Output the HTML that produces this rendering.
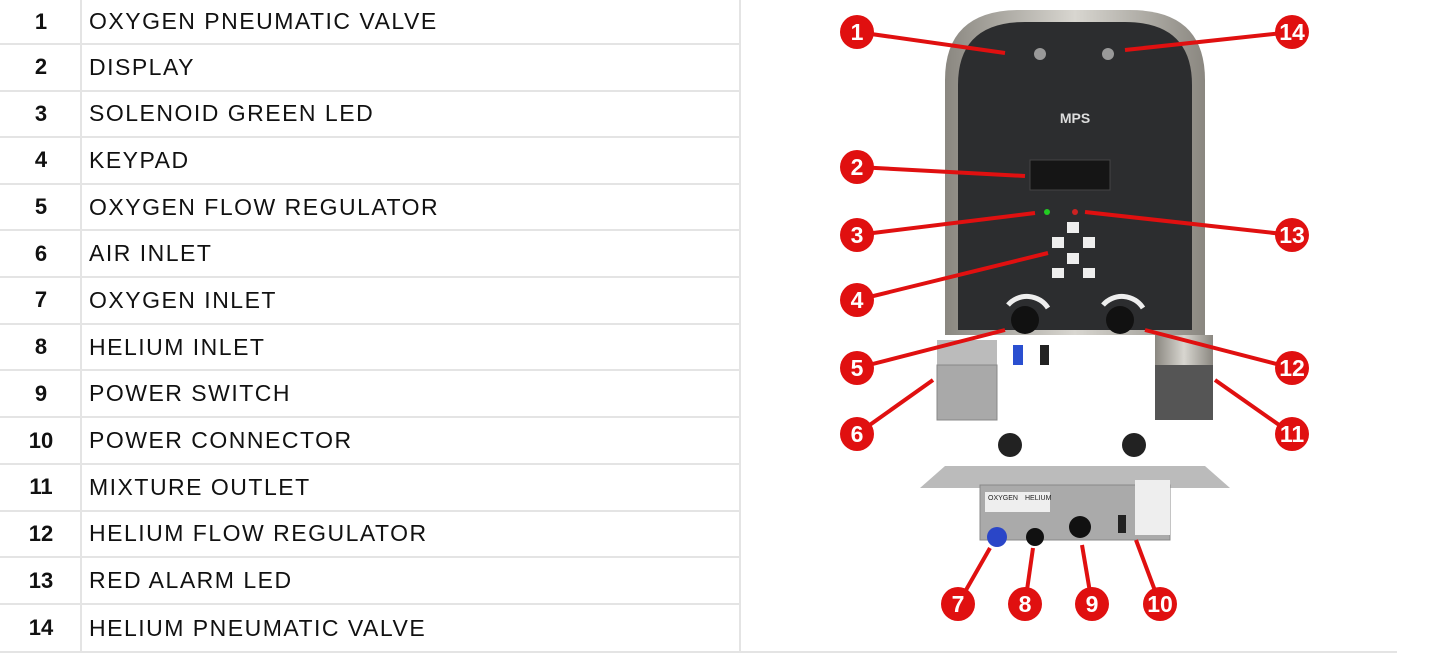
<!DOCTYPE html>
<html><head><meta charset="utf-8"><style>
body{margin:0;width:1440px;height:659px;background:#fff;overflow:hidden;font-family:"Liberation Sans",sans-serif;position:relative}
.row{position:absolute;left:0;width:740px;border-bottom:2px solid #e4e4e4;box-sizing:border-box;display:flex;align-items:center}
.n{width:82px;flex:none;text-align:center;font-weight:bold;font-size:22px;color:#111}
.t{margin-left:7px;font-size:23px;letter-spacing:1.5px;color:#111}
</style></head><body>
<div style="position:absolute;left:80px;top:0;width:2px;height:652px;background:#e4e4e4"></div>
<div style="position:absolute;left:739px;top:0;width:2px;height:652px;background:#e4e4e4"></div>
<div style="position:absolute;left:0;top:651px;width:1397px;height:2px;background:#e4e4e4"></div>
<div class="row" style="top:0;height:45px"><div class="n">1</div><div class="t">OXYGEN PNEUMATIC VALVE</div></div>
<div class="row" style="top:45px;height:46.5px"><div class="n">2</div><div class="t">DISPLAY</div></div>
<div class="row" style="top:91.5px;height:46.5px"><div class="n">3</div><div class="t">SOLENOID GREEN LED</div></div>
<div class="row" style="top:138px;height:46.7px"><div class="n">4</div><div class="t">KEYPAD</div></div>
<div class="row" style="top:184.7px;height:46.7px"><div class="n">5</div><div class="t">OXYGEN FLOW REGULATOR</div></div>
<div class="row" style="top:231.4px;height:46.7px"><div class="n">6</div><div class="t">AIR INLET</div></div>
<div class="row" style="top:278.1px;height:46.7px"><div class="n">7</div><div class="t">OXYGEN INLET</div></div>
<div class="row" style="top:324.8px;height:46.7px"><div class="n">8</div><div class="t">HELIUM INLET</div></div>
<div class="row" style="top:371.5px;height:46.7px"><div class="n">9</div><div class="t">POWER SWITCH</div></div>
<div class="row" style="top:418.2px;height:46.7px"><div class="n">10</div><div class="t">POWER CONNECTOR</div></div>
<div class="row" style="top:464.9px;height:46.7px"><div class="n">11</div><div class="t">MIXTURE OUTLET</div></div>
<div class="row" style="top:511.6px;height:46.7px"><div class="n">12</div><div class="t">HELIUM FLOW REGULATOR</div></div>
<div class="row" style="top:558.3px;height:46.7px"><div class="n">13</div><div class="t">RED ALARM LED</div></div>
<div class="row" style="top:605px;height:46px;border-bottom:none"><div class="n">14</div><div class="t">HELIUM PNEUMATIC VALVE</div></div>

<svg style="position:absolute;left:0;top:0" width="1440" height="659">
<defs><linearGradient id="st" x1="0" x2="1"><stop offset="0" stop-color="#8a8780"/><stop offset=".5" stop-color="#d8d6d0"/><stop offset="1" stop-color="#8a8780"/></linearGradient></defs>
<rect x="937" y="340" width="60" height="80" fill="#bbb"/>
<rect x="937" y="365" width="60" height="55" fill="#a9a9a9" stroke="#888"/>
<rect x="1155" y="340" width="58" height="80" fill="#555"/>
<rect x="1155" y="335" width="58" height="30" fill="url(#st)"/>
<rect x="1013" y="345" width="10" height="20" fill="#2a4fd0"/>
<rect x="1040" y="345" width="9" height="20" fill="#222"/>
<path d="M945 335 V80 Q945 10 1020 10 H1130 Q1205 10 1205 80 V335 Z" fill="url(#st)"/>
<path d="M958 330 V85 Q958 22 1025 22 H1125 Q1192 22 1192 85 V330 Z" fill="#2c2d2f"/>
<rect x="1030" y="160" width="80" height="30" fill="#151515" stroke="#444"/>
<circle cx="1040" cy="54" r="6" fill="#999"/><circle cx="1108" cy="54" r="6" fill="#999"/>
<text x="1075" y="123" fill="#ddd" font-size="14" font-weight="bold" text-anchor="middle">MPS</text>
<circle cx="1047" cy="212" r="3" fill="#2c2" /><circle cx="1075" cy="212" r="3" fill="#c22"/>
<g fill="#eee"><rect x="1067" y="222" width="12" height="11"/><rect x="1052" y="237" width="12" height="11"/><rect x="1083" y="237" width="12" height="11"/><rect x="1067" y="253" width="12" height="11"/><rect x="1052" y="268" width="12" height="10"/><rect x="1083" y="268" width="12" height="10"/></g>
<circle cx="1025" cy="320" r="14" fill="#111"/><circle cx="1120" cy="320" r="14" fill="#111"/>
<path d="M1008 305 A25 25 0 0 1 1048 308" stroke="#eee" stroke-width="5" fill="none"/>
<path d="M1103 305 A25 25 0 0 1 1143 308" stroke="#eee" stroke-width="5" fill="none"/>
<path d="M920 488 L945 466 H1205 L1230 488 Z" fill="#bbb"/>
<rect x="980" y="485" width="190" height="55" fill="#aaa" stroke="#888"/>
<rect x="1135" y="480" width="35" height="55" fill="#eee"/>
<circle cx="1010" cy="445" r="12" fill="#222"/><circle cx="1134" cy="445" r="12" fill="#222"/>
<circle cx="997" cy="537" r="10" fill="#2a46c8"/><circle cx="1035" cy="537" r="9" fill="#111"/><circle cx="1080" cy="527" r="11" fill="#111"/><rect x="1118" y="515" width="8" height="18" fill="#222"/>
<rect x="985" y="492" width="65" height="20" fill="#eee"/>
<text x="988" y="500" font-size="7" fill="#222">OXYGEN</text><text x="1025" y="500" font-size="7" fill="#222">HELIUM</text>
<g stroke="#e01010" stroke-width="4" fill="#fff" stroke-linejoin="round">
<line x1="857" y1="32" x2="1005" y2="53"/><line x1="1292" y1="32" x2="1125" y2="50"/>
<line x1="857" y1="167" x2="1025" y2="176"/><line x1="857" y1="235" x2="1035" y2="213"/>
<line x1="1292" y1="235" x2="1085" y2="212"/><line x1="857" y1="300" x2="1048" y2="253"/>
<line x1="857" y1="368" x2="1005" y2="330"/><line x1="1292" y1="368" x2="1145" y2="330"/>
<line x1="857" y1="434" x2="933" y2="380"/><line x1="1292" y1="434" x2="1215" y2="380"/>
<line x1="958" y1="604" x2="990" y2="548"/><line x1="1025" y1="604" x2="1033" y2="548"/>
<line x1="1092" y1="604" x2="1082" y2="545"/><line x1="1160" y1="604" x2="1136" y2="540"/>
</g>
<g fill="#e01010">
<circle cx="857" cy="32" r="17"/><circle cx="1292" cy="32" r="17"/><circle cx="857" cy="167" r="17"/>
<circle cx="857" cy="235" r="17"/><circle cx="1292" cy="235" r="17"/><circle cx="857" cy="300" r="17"/>
<circle cx="857" cy="368" r="17"/><circle cx="1292" cy="368" r="17"/><circle cx="857" cy="434" r="17"/>
<circle cx="1292" cy="434" r="17"/><circle cx="958" cy="604" r="17"/><circle cx="1025" cy="604" r="17"/>
<circle cx="1092" cy="604" r="17"/><circle cx="1160" cy="604" r="17"/>
</g>
<g fill="#fff" font-size="23" font-weight="bold" text-anchor="middle">
<text x="857" y="40">1</text><text x="1292" y="40">14</text><text x="857" y="175">2</text>
<text x="857" y="243">3</text><text x="1292" y="243">13</text><text x="857" y="308">4</text>
<text x="857" y="376">5</text><text x="1292" y="376">12</text><text x="857" y="442">6</text>
<text x="1292" y="442">11</text><text x="958" y="612">7</text><text x="1025" y="612">8</text>
<text x="1092" y="612">9</text><text x="1160" y="612">10</text>
</g>
</svg>
</body></html>
